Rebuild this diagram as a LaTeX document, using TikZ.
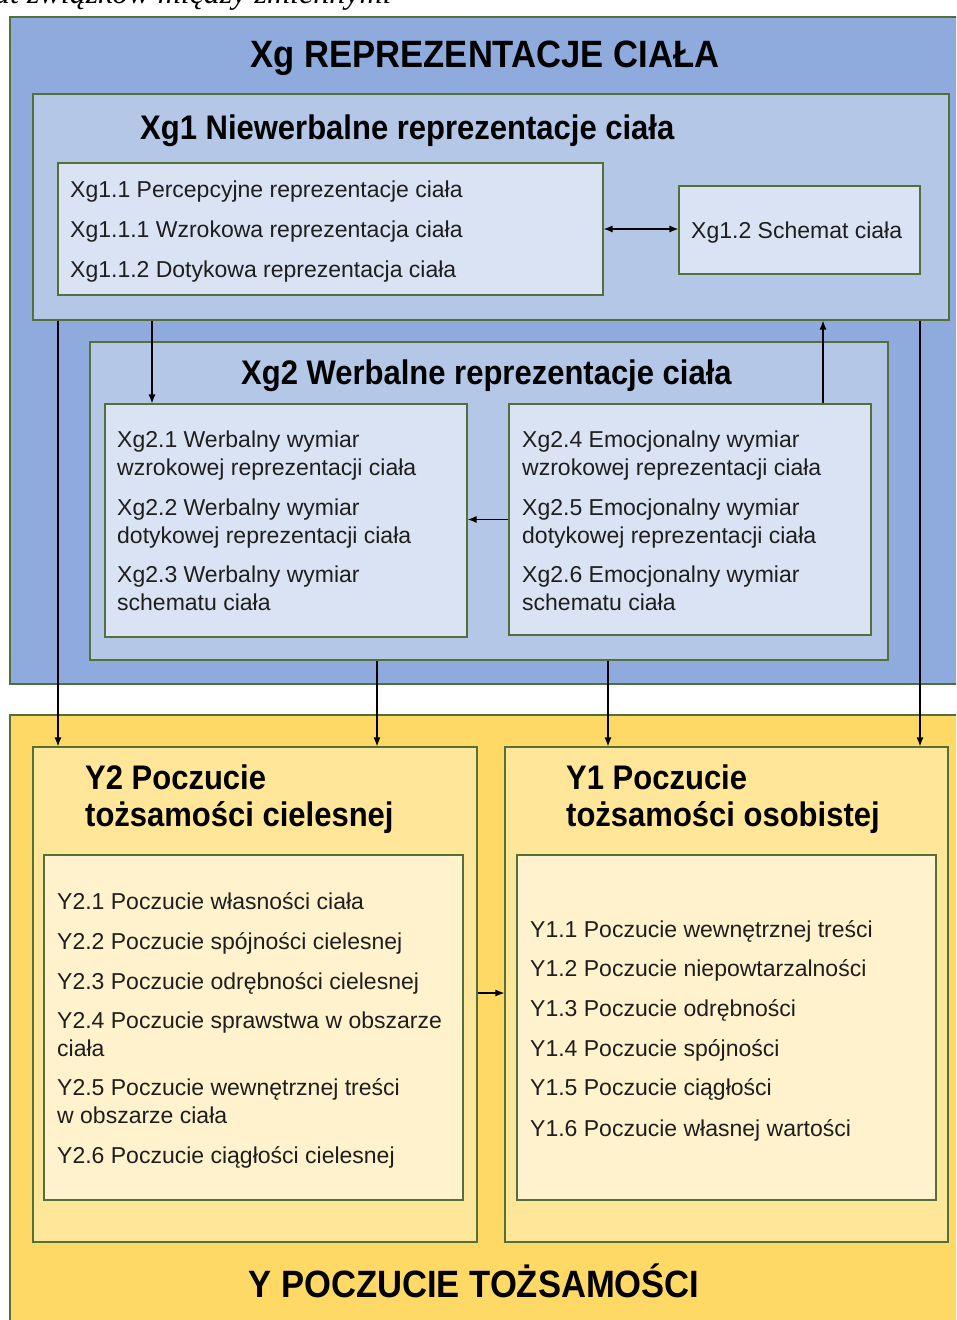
\documentclass[tikz,border=0pt]{standalone}
\usepackage{fontspec}
\setmainfont{Liberation Sans}
\newfontfamily\capfont{Liberation Serif}
\usetikzlibrary{arrows.meta,fit}

\definecolor{edge}{HTML}{52713A}
\definecolor{blueA}{HTML}{8FAADC}
\definecolor{blueB}{HTML}{B4C7E7}
\definecolor{blueC}{HTML}{DAE3F3}
\definecolor{yelA}{HTML}{FFD966}
\definecolor{yelB}{HTML}{FFE699}
\definecolor{yelC}{HTML}{FFF2CC}
\definecolor{ink}{HTML}{1E1E1E}

\tikzset{
  frame/.style={rectangle, draw=edge, line width=1.1pt, inner sep=0pt},
  bA/.style={frame, fill=blueA},
  bB/.style={frame, fill=blueB},
  bC/.style={frame, fill=blueC},
  yA/.style={frame, fill=yelA},
  yB/.style={frame, fill=yelB},
  yC/.style={frame, fill=yelC},
  item/.style={anchor=base west, inner sep=0pt, text=ink,
    font=\fontsize{23}{28}\selectfont},
  head/.style={anchor=base west, inner sep=0pt, text=black,
    font=\fontsize{31}{37}\selectfont\bfseries},
  big/.style={anchor=base, inner sep=0pt, text=black,
    font=\fontsize{34.6}{40}\selectfont\bfseries},
  link/.style={line width=1.2pt, -{Latex[length=9pt,width=7pt]}},
  twolink/.style={line width=1.2pt, {Latex[length=9pt,width=7pt]}-{Latex[length=9pt,width=7pt]}},
}
\newcommand{\tallbf}[1]{\scalebox{1}[1.1]{#1}}

\begin{document}
\begin{tikzpicture}[x=1pt,y=-1pt]
\clip (0,0) rectangle (956,1320);
\fill[white] (0,0) rectangle (956,1320);

% caption line running off the top edge
\node[anchor=base west, inner sep=0pt, font=\capfont\itshape\fontsize{32}{36}\selectfont]
  (caption) at (-6,3) {at związków między zmiennymi};

% ---------- body representations ----------
\node[bA, fit={(10,17) (980,684)}] (xg) {};
\node[bB, fit={(33,94) (949,320)}] (xg1) {};
\node[bC, fit={(58,163) (603,295)}] (xg11) {};
\node[bC, fit={(679,186) (920,274)}] (xg12) {};
\node[bB, fit={(90,342) (888,660)}] (xg2) {};
\node[bC, fit={(105,404) (467,637)}] (xg2L) {};
\node[bC, fit={(509,404) (871,635)}] (xg2R) {};

% ---------- sense of identity ----------
\node[yA, fit={(10,715) (980,1340)}] (y) {};
\node[yB, fit={(33,747) (477,1242)}] (y2) {};
\node[yC, fit={(44,855) (463,1200)}] (y2in) {};
\node[yB, fit={(505,747) (948,1242)}] (y1) {};
\node[yC, fit={(517,855) (936,1200)}] (y1in) {};

% ---------- connectors ----------
\draw[twolink] (xg11.east) -- (xg11.east -| xg12.west);
\draw[link] (xg1.south -| 152,0) -- (xg2L.north -| 152,0);
\draw[link] (xg2R.north -| 823,0) -- (xg1.south -| 823,0);
\draw[link] (xg2R.west) -- (xg2R.west -| xg2L.east);
\draw[link] (xg1.south -| 58,0) -- (y2.north -| 58,0);
\draw[link] (xg1.south -| 920,0) -- (y1.north -| 920,0);
\draw[link] (xg2.south -| 377,0) -- (y2.north -| 377,0);
\draw[link] (xg2.south -| 608,0) -- (y1.north -| 608,0);
\draw[link] (y2.east |- 0,993) -- (y1.west |- 0,993);

% ---------- titles ----------
\node[big] (tXg) at (485,67) {\tallbf{Xg REPREZENTACJE CIAŁA}};
\node[head] (tXg1) at (140,139) {\tallbf{Xg1 Niewerbalne reprezentacje ciała}};
\node[head] (tXg2) at (241,384) {\tallbf{Xg2 Werbalne reprezentacje ciała}};
\node[head] (tY2a) at (85,789) {\tallbf{Y2 Poczucie}};
\node[head] (tY2b) at (85,826) {\tallbf{tożsamości cielesnej}};
\node[head] (tY1a) at (566,789) {\tallbf{Y1 Poczucie}};
\node[head] (tY1b) at (566,826) {\tallbf{tożsamości osobistej}};
\node[big] (tY) at (474,1297) {\tallbf{Y POCZUCIE TOŻSAMOŚCI}};

% ---------- Xg1 items ----------
\node[item] (a1) at (70,197) {Xg1.1 Percepcyjne reprezentacje ciała};
\node[item] (a2) at (70,237) {Xg1.1.1 Wzrokowa reprezentacja ciała};
\node[item] (a3) at (70,277) {Xg1.1.2 Dotykowa reprezentacja ciała};
\node[item] (a4) at (691,238) {Xg1.2 Schemat ciała};

% ---------- Xg2 items ----------
\node[item] (b1) at (117,447) {Xg2.1 Werbalny wymiar};
\node[item] (b1b) at (117,475) {wzrokowej reprezentacji ciała};
\node[item] (b2) at (117,515) {Xg2.2 Werbalny wymiar};
\node[item] (b2b) at (117,543) {dotykowej reprezentacji ciała};
\node[item] (b3) at (117,582) {Xg2.3 Werbalny wymiar};
\node[item] (b3b) at (117,610) {schematu ciała};

\node[item] (c1) at (522,447) {Xg2.4 Emocjonalny wymiar};
\node[item] (c1b) at (522,475) {wzrokowej reprezentacji ciała};
\node[item] (c2) at (522,515) {Xg2.5 Emocjonalny wymiar};
\node[item] (c2b) at (522,543) {dotykowej reprezentacji ciała};
\node[item] (c3) at (522,582) {Xg2.6 Emocjonalny wymiar};
\node[item] (c3b) at (522,610) {schematu ciała};

% ---------- Y2 items ----------
\node[item] (d1) at (57,909) {Y2.1 Poczucie własności ciała};
\node[item] (d2) at (57,949) {Y2.2 Poczucie spójności cielesnej};
\node[item] (d3) at (57,989) {Y2.3 Poczucie odrębności cielesnej};
\node[item] (d4) at (57,1028) {Y2.4 Poczucie sprawstwa w obszarze};
\node[item] (d4b) at (57,1056) {ciała};
\node[item] (d5) at (57,1095) {Y2.5 Poczucie wewnętrznej treści};
\node[item] (d5b) at (57,1123) {w obszarze ciała};
\node[item] (d6) at (57,1163) {Y2.6 Poczucie ciągłości cielesnej};

% ---------- Y1 items ----------
\node[item] (e1) at (530,937) {Y1.1 Poczucie wewnętrznej treści};
\node[item] (e2) at (530,976) {Y1.2 Poczucie niepowtarzalności};
\node[item] (e3) at (530,1016) {Y1.3 Poczucie odrębności};
\node[item] (e4) at (530,1056) {Y1.4 Poczucie spójności};
\node[item] (e5) at (530,1095) {Y1.5 Poczucie ciągłości};
\node[item] (e6) at (530,1136) {Y1.6 Poczucie własnej wartości};
\end{tikzpicture}
\end{document}
